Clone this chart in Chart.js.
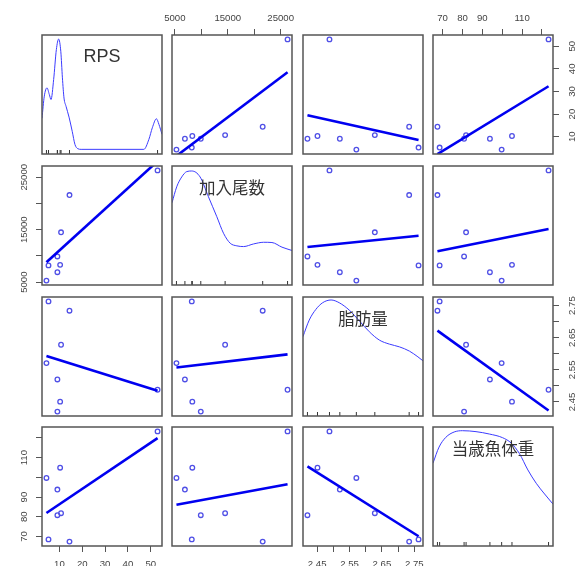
<!DOCTYPE html>
<html lang="ja">
<head>
<meta charset="UTF-8" />
<title>Scatterplot matrix</title>
<script src="https://cdn.jsdelivr.net/npm/chart.js@4.4.0/dist/chart.umd.min.js"></script>
<style>
  body { margin: 0; background: #fff; overflow: hidden; }
  #wrap { position: relative; width: 579px; height: 566px; overflow: hidden; }
  #wrap canvas { position: absolute; }
</style>
</head>
<body>
<div id="wrap"></div>
<script>
const varNames = ["RPS", "加入尾数", "脂肪量", "当歳魚体重"];

// one entry per lot, same order in every array
const rps = [9.1, 10.3, 53.0, 9.1, 4.3, 10.7, 14.4, 5.2];
const added = [9900, 8300, 26300, 6900, 5300, 14500, 21600, 8200];
const fat = [2.42, 2.451, 2.488, 2.52, 2.571, 2.628, 2.734, 2.763];
const weight = [80.8, 104.9, 123.3, 93.8, 99.7, 81.8, 67.4, 68.5];

const rpsTicks = [10, 20, 30, 40, 50];
const rpsTickLabels = ["10", "20", "30", "40", "50"];
const addedTicks = [5000, 10000, 15000, 20000, 25000];
const addedTickLabels = ["5000", "", "15000", "", "25000"];
const fatTicks = [2.45, 2.5, 2.55, 2.6, 2.65, 2.7, 2.75];
const fatTickLabels = ["2.45", "", "2.55", "", "2.65", "", "2.75"];
const weightTicks = [70, 80, 90, 100, 110, 120];
const weightTickLabels = ["70", "80", "90", "", "110", ""];

// density curves on the diagonal (y = share of panel height)
const rpsDensX = [2.35, 3.36, 4.54, 5.56, 6.3, 7.46, 8.64, 9.65, 10.6, 11.3, 12.0, 12.9, 14.2, 15.6, 16.8, 18.0, 19.5, 47.0, 49.2, 50.7, 52.5, 53.6, 54.95];
const rpsDensY = [0.3, 0.486, 0.556, 0.5, 0.458, 0.626, 0.877, 0.966, 0.86, 0.64, 0.47, 0.4, 0.31, 0.19, 0.08, 0.045, 0.039, 0.039, 0.123, 0.22, 0.296, 0.249, 0.165];
const addedDensX = [4460, 5350, 6300, 7245, 8190, 9770, 11350, 12930, 14195, 15460, 16720, 17985, 19875, 21770, 23350, 25245, 27140];
const addedDensY = [0.691, 0.825, 0.908, 0.953, 0.958, 0.908, 0.741, 0.574, 0.435, 0.351, 0.329, 0.323, 0.345, 0.359, 0.357, 0.318, 0.29];
const fatDensX = [2.406, 2.4255, 2.446, 2.467, 2.493, 2.518, 2.549, 2.58, 2.611, 2.642, 2.673, 2.704, 2.735, 2.761, 2.777];
const fatDensY = [0.666, 0.806, 0.896, 0.952, 0.975, 0.952, 0.89, 0.8, 0.708, 0.638, 0.604, 0.581, 0.545, 0.497, 0.463];
const weightDensX = [65.16, 68.2, 71.6, 75.8, 80.0, 86.8, 93.5, 100.2, 104.5, 108.7, 112.9, 117.1, 121.3, 125.54];
const weightDensY = [0.696, 0.831, 0.913, 0.958, 0.969, 0.961, 0.941, 0.91, 0.865, 0.775, 0.639, 0.527, 0.437, 0.352];

// fitted lines: y at the smallest and largest x of the panel
const fitRpsAdded = [1.5, 38.5];
const fitRpsFat = [19.5, 8.5];
const fitRpsWeight = [2.3, 32.3];
const fitAddedRps = [8800, 28050];
const fitAddedFat = [11700, 13850];
const fitAddedWeight = [10900, 15130];
const fitFatRps = [2.593, 2.485];
const fitFatAdded = [2.557, 2.598];
const fitFatWeight = [2.672, 2.4235];
const fitWeightRps = [81.9, 119.9];
const fitWeightAdded = [86.1, 96.5];
const fitWeightFat = [105.6, 70.1];

const fits = [
  [null, fitRpsAdded, fitRpsFat, fitRpsWeight],
  [fitAddedRps, null, fitAddedFat, fitAddedWeight],
  [fitFatRps, fitFatAdded, null, fitFatWeight],
  [fitWeightRps, fitWeightAdded, fitWeightFat, null],
];

const vars = [
  { name: varNames[0], values: rps, ticks: rpsTicks, labels: rpsTickLabels, densX: rpsDensX, densY: rpsDensY },
  { name: varNames[1], values: added, ticks: addedTicks, labels: addedTickLabels, densX: addedDensX, densY: addedDensY },
  { name: varNames[2], values: fat, ticks: fatTicks, labels: fatTickLabels, densX: fatDensX, densY: fatDensY },
  { name: varNames[3], values: weight, ticks: weightTicks, labels: weightTickLabels, densX: weightDensX, densY: weightDensY },
];

// R style: data range plus 4% each side
vars.forEach((v) => {
  const lo = Math.min(...v.values), hi = Math.max(...v.values), d = hi - lo;
  v.min = lo - 0.04 * d;
  v.max = hi + 0.04 * d;
});

const M = 40;
const panelLeft = [42, 172, 303, 433];
const panelTop = [35, 166, 297, 427];
const panelW = 120, panelH = 119;
const fontFamily = '"Liberation Sans", Arial, sans-serif';
const tickFont = { family: fontFamily, size: 9.6 };

const boxPlugin = {
  id: "box",
  afterDraw(chart) {
    const a = chart.chartArea, ctx = chart.ctx;
    ctx.save();
    ctx.strokeStyle = "#555";
    ctx.lineWidth = 1.5;
    ctx.strokeRect(a.left, a.top, a.right - a.left, a.bottom - a.top);
    ctx.restore();
  },
};

function yLabelPlugin(v, side) {
  return {
    id: "ylabels",
    afterDraw(chart) {
      const a = chart.chartArea, sc = chart.scales.y, ctx = chart.ctx;
      const x = side === "left" ? a.left - 15.3 : a.right + 22;
      ctx.save();
      ctx.fillStyle = "#444";
      ctx.font = "9.6px " + fontFamily;
      ctx.textAlign = "center";
      ctx.textBaseline = "alphabetic";
      v.ticks.forEach((t, i) => {
        if (!v.labels[i]) return;
        ctx.save();
        ctx.translate(x, sc.getPixelForValue(t));
        ctx.rotate(-Math.PI / 2);
        ctx.fillText(v.labels[i], 0, 0);
        ctx.restore();
      });
      ctx.restore();
    },
  };
}

function namePlugin(name) {
  return {
    id: "varname",
    afterDatasetsDraw(chart) {
      const a = chart.chartArea, ctx = chart.ctx;
      ctx.save();
      ctx.fillStyle = "#333";
      ctx.font = /^[A-Za-z]+$/.test(name)
        ? "18px " + fontFamily
        : '16.5px "Noto Sans CJK JP", sans-serif';
      ctx.textAlign = "center";
      ctx.textBaseline = "middle";
      ctx.fillText(name, (a.left + a.right) / 2, a.top + 22);
      ctx.restore();
    },
  };
}

function makeScale(v, axis, side) {
  const s = { type: "linear", min: v.min, max: v.max, display: !!side };
  if (!side) return s;
  s.position = side;
  s.afterBuildTicks = (sc) => { sc.ticks = v.ticks.map((t) => ({ value: t })); };
  s.afterFit = (sc) => { if (axis === "x") sc.height = M; else sc.width = M; };
  s.grid = { drawOnChartArea: false, drawTicks: true, tickLength: 6, color: "#555", lineWidth: 1 };
  s.border = { display: false };
  s.ticks = {
    display: axis === "x",
    autoSkip: false,
    maxRotation: 0,
    minRotation: 0,
    padding: side === "top" ? 4.5 : 7,
    color: "#444",
    font: tickFont,
    callback: (val, i) => v.labels[i],
  };
  return s;
}

const wrap = document.getElementById("wrap");

for (let r = 0; r < 4; r++) {
  for (let c = 0; c < 4; c++) {
    const cv = document.createElement("canvas");
    cv.width = panelW + 2 * M;
    cv.height = panelH + 2 * M;
    cv.style.width = cv.width + "px";
    cv.style.height = cv.height + "px";
    cv.style.left = panelLeft[c] - M + "px";
    cv.style.top = panelTop[r] - M + "px";
    wrap.appendChild(cv);

    const xSide = r === 0 && c % 2 === 1 ? "top" : r === 3 && c % 2 === 0 ? "bottom" : null;
    const ySide = c === 3 && r % 2 === 0 ? "right" : c === 0 && r % 2 === 1 ? "left" : null;
    const xv = vars[c], yv = vars[r];
    const plugins = [boxPlugin];
    let datasets, yScale;

    if (r === c) {
      datasets = [
        {
          type: "line",
          data: xv.densX.map((x, i) => ({ x: x, y: xv.densY[i] })),
          borderColor: "#3b3bff",
          borderWidth: 1,
          pointRadius: 0,
          fill: false,
          cubicInterpolationMode: "monotone",
          clip: 0,
        },
        {
          type: "scatter",
          data: xv.values.map((x) => ({ x: x, y: 0 })),
          pointStyle: "line",
          pointRotation: 90,
          pointRadius: 4,
          pointBorderColor: "#333",
          pointBorderWidth: 1,
          clip: 0,
        },
      ];
      yScale = { type: "linear", min: 0, max: 1, display: false };
      plugins.push(namePlugin(xv.name));
    } else {
      const f = fits[r][c];
      const x0 = Math.min(...xv.values), x1 = Math.max(...xv.values);
      datasets = [
        {
          type: "line",
          data: [{ x: x0, y: f[0] }, { x: x1, y: f[1] }],
          borderColor: "#0000f0",
          borderWidth: 2.6,
          pointRadius: 0,
          clip: 0,
        },
        {
          type: "scatter",
          data: xv.values.map((x, i) => ({ x: x, y: yv.values[i] })),
          pointStyle: "circle",
          pointRadius: 2.3,
          pointBorderColor: "#4f4fe6",
          pointBackgroundColor: "rgba(0,0,0,0)",
          pointBorderWidth: 1.3,
        },
      ];
      yScale = makeScale(yv, "y", ySide);
      if (ySide) plugins.push(yLabelPlugin(yv, ySide));
    }

    new Chart(cv, {
      type: "scatter",
      data: { datasets: datasets },
      options: {
        responsive: false,
        animation: false,
        events: [],
        layout: {
          padding: {
            left: ySide === "left" ? 0 : M,
            right: ySide === "right" ? 0 : M,
            top: xSide === "top" ? 0 : M,
            bottom: xSide === "bottom" ? 0 : M,
          },
        },
        scales: { x: makeScale(xv, "x", xSide), y: yScale },
        plugins: { legend: { display: false }, tooltip: { enabled: false } },
      },
      plugins: plugins,
    });
  }
}
</script>
</body>
</html>
